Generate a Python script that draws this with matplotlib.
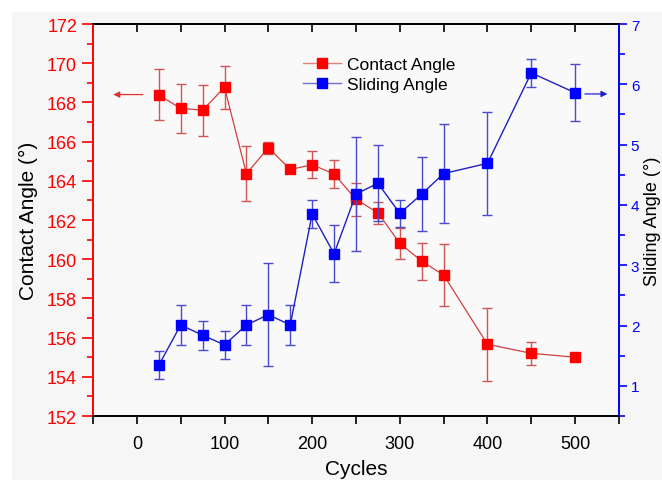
import numpy as np
import matplotlib.pyplot as plt
from matplotlib.ticker import MultipleLocator
from matplotlib.lines import Line2D

plt.rcParams['font.family'] = ['Liberation Sans', 'DejaVu Sans']

# data
cycles = [25, 50, 75, 100, 125, 150, 175, 200, 225, 250, 275, 300, 325, 350, 400, 450, 500]
contact = [168.38, 167.7, 167.6, 168.77, 164.36, 165.69, 164.58, 164.82, 164.35, 163.05,
           162.37, 160.81, 159.9, 159.19, 155.66, 155.2, 155.0]
contact_err = [1.3, 1.25, 1.3, 1.1, 1.4, 0.3, 0.2, 0.7, 0.7, 0.85, 0.55, 0.8, 0.95, 1.6,
               1.85, 0.6, 0.2]
sliding = [1.34, 2.01, 1.84, 1.68, 2.01, 2.18, 2.01, 3.85, 3.19, 4.18, 4.36, 3.86, 4.18,
           4.52, 4.69, 6.19, 5.86]
sliding_err = [0.23, 0.33, 0.24, 0.23, 0.33, 0.85, 0.33, 0.23, 0.47, 0.94, 0.63, 0.23, 0.62,
               0.82, 0.85, 0.23, 0.47]

red = '#ff0000'
blue = '#0000ff'

fig = plt.figure(figsize=(6.62, 4.81), dpi=100)
fig.patches.append(plt.Rectangle((0.018, 0.0), 0.982, 0.973, transform=fig.transFigure,
                                 facecolor='#f6f6f6', edgecolor='none', zorder=-10))
ax = fig.add_axes([0.1405, 0.133, 0.7945, 0.815])
ax.set_facecolor('#f9f9f9')
ax2 = ax.twinx()

ax.errorbar(cycles, contact, yerr=contact_err, color='#d04040', lw=0.9, marker='s', ms=7,
            mfc=red, mec=red, ecolor='#d05555', elinewidth=1.0, capsize=3.5, capthick=1.0,
            zorder=3)
ax2.errorbar(cycles, sliding, yerr=sliding_err, color='#2020c0', lw=1.0, marker='s', ms=7,
             mfc=blue, mec=blue, ecolor='#4a4ad0', elinewidth=1.0, capsize=3.5, capthick=1.0,
             zorder=3)

# direction arrows
ax.annotate('', xy=(-30, 168.4), xytext=(10, 168.4),
            arrowprops=dict(arrowstyle='-|>', color='#e03030', lw=0.9, mutation_scale=9))
ax2.annotate('', xy=(540, 5.84), xytext=(508, 5.84),
             arrowprops=dict(arrowstyle='-|>', color='#2020d0', lw=0.9, mutation_scale=9))

ax.set_xlim(-50, 550)
ax.set_ylim(152, 172)
ax2.set_ylim(0.5, 7)

ax.xaxis.set_major_locator(MultipleLocator(100))
ax.xaxis.set_minor_locator(MultipleLocator(50))
ax.yaxis.set_major_locator(MultipleLocator(2))
ax.yaxis.set_minor_locator(MultipleLocator(1))
ax2.yaxis.set_major_locator(MultipleLocator(1))
ax2.yaxis.set_minor_locator(MultipleLocator(0.5))

ax.tick_params(axis='x', which='major', direction='out', length=6, width=1.2,
               labelsize=13, pad=8)
ax.tick_params(axis='x', which='minor', direction='out', length=6, width=1.2)
ax.tick_params(axis='y', which='major', direction='out', length=8, width=1.2,
               colors=red, labelsize=13)
ax.tick_params(axis='y', which='minor', direction='out', length=4, width=1.2, colors=red)
ax2.tick_params(axis='y', which='major', direction='out', length=6, width=1.2,
                colors=blue, labelsize=11, pad=2.5)
ax2.tick_params(axis='y', which='minor', direction='out', length=4, width=1.2, colors=blue)

top = ax.secondary_xaxis('top')
top.xaxis.set_major_locator(MultipleLocator(50))
top.tick_params(direction='in', length=6, width=1.2, labeltop=False)

for a in (ax, ax2):
    a.spines['left'].set_color(red)
    a.spines['right'].set_color(blue)
    a.spines['left'].set_linewidth(1.2)
    a.spines['right'].set_linewidth(1.2)
    a.spines['top'].set_linewidth(1.2)
    a.spines['bottom'].set_linewidth(1.2)
top.spines['top'].set_linewidth(1.2)

ax.set_xlabel('Cycles', fontsize=15, labelpad=5)
ax.set_ylabel('Contact Angle (°)', fontsize=15, labelpad=6)
ax2.set_ylabel('Sliding Angle (°)', fontsize=13)
ax2.yaxis.set_label_coords(1.047, 0.5)

handles = [Line2D([], [], color='#e08080', lw=1.0, marker='s', ms=7, mfc=red, mec=red),
           Line2D([], [], color='#7070d0', lw=1.0, marker='s', ms=7, mfc=blue, mec=blue)]
ax.legend(handles, ['Contact Angle', 'Sliding Angle'], loc='upper left',
          bbox_to_anchor=(0.37, 0.955), frameon=False, fontsize=12.5, handlelength=2.2,
          handletextpad=0.3, labelspacing=0.25)

fig.savefig('out.png', dpi=100)
